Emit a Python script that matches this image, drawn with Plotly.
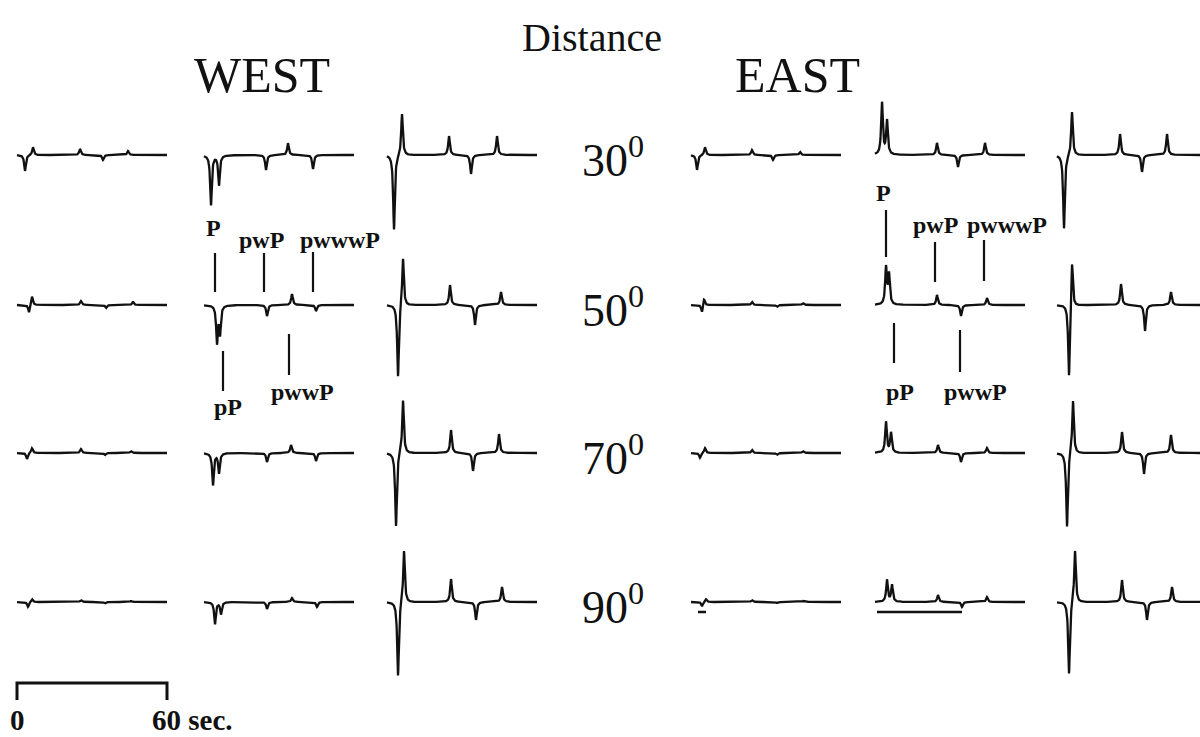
import numpy as np
import plotly.graph_objects as go

# ---------------- data ----------------
PX_PER_SEC = 2.5          # horizontal scale of the figure
TRACE_LEN = 60.0          # seconds shown in each seismogram
SCALE_BAR_SEC = 60        # length of the time scale bar

DISTANCES = ["30", "50", "70", "90"]
ROW_BASE = [155, 305, 453, 602]                 # baseline of each distance row (page px)
COL_START = [17, 204, 387, 691, 875, 1057]      # left edge of each column (page px)

# arrival times (s after trace start) and amplitudes (px, up positive), one list per row
W1_T = [[3.2, 6.4, 25.2, 34.4, 44.4], [4.8, 6.0, 25.6, 35.6, 46.4],
        [4.0, 6.0, 25.6, 35.2, 45.6], [4.4, 6.0, 25.6, 35.2, 45.6]]
W1_A = [[-16, 8, 6, -5, 4], [-8, 9, 4, -3, 3], [-6, 5, 4, -2, 2], [-5, 3, 2, -1.5, 1]]

W2_T = [[2.8, 6.0, 24.8, 33.6, 43.6], [5.2, 6.4, 25.2, 35.2, 44.8],
        [3.6, 6.0, 25.2, 34.8, 44.8], [4.4, 6.8, 25.2, 35.2, 45.2]]
W2_A = [[-50, -30, -15, 12, -14], [-37, -28, -11, 11, -6],
        [-32, -20, -9, 8, -8], [-22, -12, -7, 4, -5]]

W3_T = [[2.8, 6.0, 24.8, 33.6, 44.0], [4.4, 6.4, 25.2, 35.2, 45.6],
        [3.6, 6.4, 25.6, 34.4, 44.8], [4.4, 6.8, 25.6, 35.6, 46.0]]
W3_A = [[-75, 42, 19, -19, 19], [-73, 49, 20, -20, 13],
        [-74, 54, 23, -18, 19], [-75, 53, 23, -18, 15]]

E1_T = [[2.4, 5.6, 24.4, 32.8, 43.6], [4.4, 5.2, 24.4, 34.4, 44.8],
        [3.6, 5.6, 24.4, 34.4, 44.8], [4.4, 6.0, 24.4, 34.4, 44.8]]
E1_A = [[-15, 8, 5, -5, 3], [-8, 7, 3, -2, 2], [-5, 5, 3, -2, 2], [-4, 3, 2, -1, 1]]

E2_T = [[2.8, 4.8, 24.8, 33.2, 44.0], [4.4, 5.6, 24.8, 34.4, 44.8],
        [4.4, 6.4, 25.2, 34.4, 44.8], [4.8, 6.8, 25.2, 34.8, 44.8]]
E2_A = [[52, 34, 12, -12, 12], [37, 30, 10, -11, 7],
        [31, 20, 8, -9, 5], [22, 17, 7, -5, 5]]

E3_T = [[2.8, 6.0, 25.2, 34.0, 44.0], [4.8, 6.0, 25.6, 35.2, 45.6],
        [4.0, 6.4, 26.0, 34.8, 45.6], [4.8, 7.2, 26.0, 36.0, 46.0]]
E3_A = [[-74, 44, 21, -17, 21], [-75, 48, 21, -26, 13],
        [-75, 54, 21, -21, 18], [-73, 53, 22, -18, 15]]

COLUMNS_T = [W1_T, W2_T, W3_T, E1_T, E2_T, E3_T]
COLUMNS_A = [W1_A, W2_A, W3_A, E1_A, E2_A, E3_A]

# phase labels (picked on the 50 degree row, middle columns)
PHASES = ["P", "pP", "pwP", "pwwP", "pwwwP"]
PHASE_T = [4.4, 7.6, 24.0, 34.0, 43.6]
PHASE_ABOVE = [True, False, True, False, True]

# ---------------- helpers ----------------
TAU = 0.4  # pulse half width (s)


def sx(px):
    return px / PX_PER_SEC


def sy(py):
    return -py


def seismogram(times, amps):
    t = np.union1d(np.arange(0, TRACE_LEN + 1e-9, 0.1), np.array(times))
    y = np.zeros_like(t)
    for tk, ak in zip(times, amps):
        y += ak / (1.0 + ((t - tk) / TAU) ** 2)
    return t, y


fig = go.Figure()
LINE = dict(color="#111111", width=2.3)

for ci, (ct, ca) in enumerate(zip(COLUMNS_T, COLUMNS_A)):
    x0 = sx(COL_START[ci])
    for ri in range(4):
        t, y = seismogram(ct[ri], ca[ri])
        fig.add_trace(go.Scatter(x=x0 + t, y=sy(ROW_BASE[ri]) + y, mode="lines",
                                 line=LINE, hoverinfo="skip", showlegend=False))

# phase marker lines (50 degree row)
SERIF = "Liberation Serif"
west_above = [(253, 292), None, (253, 292), None, (252, 292)]
west_below = [None, (351, 391), None, (334, 375), None]
east_above = [(210, 257), None, (242, 282), None, (240, 281)]
east_below = [None, (323, 363), None, (330, 372), None]
for col, above, below in [(1, west_above, west_below), (4, east_above, east_below)]:
    for k, pt in enumerate(PHASE_T):
        seg = above[k] if PHASE_ABOVE[k] else below[k]
        xx = sx(COL_START[col]) + pt
        fig.add_trace(go.Scatter(x=[xx, xx], y=[sy(seg[0]), sy(seg[1])], mode="lines",
                                 line=dict(color="#111111", width=2.2), hoverinfo="skip",
                                 showlegend=False))

# small underline artefacts in the 90 degree east row
for (a, b) in [(698, 706), (877, 962)]:
    fig.add_trace(go.Scatter(x=[sx(a), sx(b)], y=[sy(612), sy(612)], mode="lines",
                             line=dict(color="#111111", width=2.5), hoverinfo="skip",
                             showlegend=False))

# time scale bar
bx0 = sx(COL_START[0])
fig.add_trace(go.Scatter(x=[bx0, bx0, bx0 + SCALE_BAR_SEC, bx0 + SCALE_BAR_SEC],
                         y=[sy(700), sy(683), sy(683), sy(700)], mode="lines",
                         line=dict(color="#111111", width=3), hoverinfo="skip",
                         showlegend=False))

ann = []


def text(px, py, s, size, xanchor="center", yanchor="middle", bold=False):
    ann.append(dict(x=sx(px), y=sy(py), text=f"<b>{s}</b>" if bold else s,
                    showarrow=False, xanchor=xanchor, yanchor=yanchor,
                    font=dict(family=SERIF, size=size, color="#111111")))


text(592, 37, "Distance", 40)
text(262, 75, "WEST", 50)
text(797, 75, "EAST", 50)
for d, yb in zip(DISTANCES, ROW_BASE):
    text(580, yb + 2, f"{d}<sup>0</sup>", 46, xanchor="left")

# west labels
text(213, 228, "P", 24, bold=True)
text(261, 240, "pwP", 24, bold=True)
text(340, 240, "pwwwP", 24, bold=True)
text(228, 407, "pP", 24, bold=True)
text(302, 392, "pwwP", 24, bold=True)
# east labels
text(883, 193, "P", 24, bold=True)
text(935, 225, "pwP", 24, bold=True)
text(1007, 225, "pwwwP", 24, bold=True)
text(900, 392, "pP", 24, bold=True)
text(975, 392, "pwwP", 24, bold=True)

# scale bar labels
text(17, 720, "0", 29, bold=True)
text(150, 720, "60 sec.", 29, xanchor="left", bold=True)

fig.update_layout(
    width=1200, height=737, margin=dict(l=0, r=0, t=0, b=0),
    paper_bgcolor="white", plot_bgcolor="white", annotations=ann,
    xaxis=dict(range=[0, 1200 / PX_PER_SEC], visible=False, fixedrange=True),
    yaxis=dict(range=[-737, 0], visible=False, fixedrange=True),
)

fig.write_html("out.html", config={"displayModeBar": False, "staticPlot": True},
               post_script="document.body.style.margin='0';"
               "document.body.style.overflow='hidden';")
